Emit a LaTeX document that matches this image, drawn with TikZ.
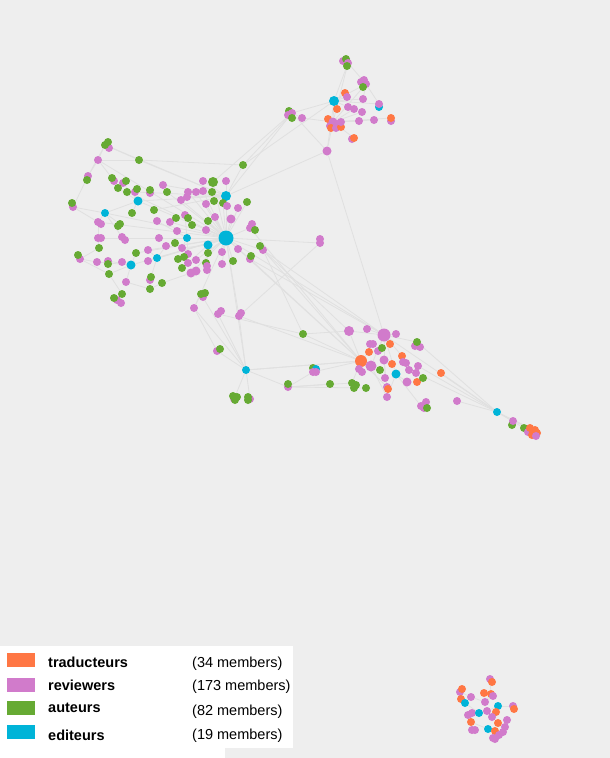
\documentclass[tikz,border=0pt]{standalone}
\usepackage{fontspec}
\setmainfont{Liberation Sans}
\usetikzlibrary{backgrounds}
\definecolor{tra}{HTML}{FF7744}
\definecolor{rev}{HTML}{D17BCB}
\definecolor{aut}{HTML}{66AA33}
\definecolor{edi}{HTML}{00B4D8}
\definecolor{bgc}{HTML}{EEEEEE}
\definecolor{edgec}{HTML}{E0E0E0}
\tikzset{
  dot/.style={circle, inner sep=0pt, minimum size=#1, draw=none},
  link/.style={draw=edgec, line width=0.8pt},
  legsq/.style={rectangle, inner sep=0pt, minimum width=28pt, minimum height=14pt, draw=none},
  legtxt/.style={anchor=base west, inner sep=0pt, font=\fontsize{14.5}{16}\selectfont\bfseries},
  memtxt/.style={anchor=base west, inner sep=0pt, font=\fontsize{14.5}{16}\selectfont},
}
\begin{document}
\begin{tikzpicture}[x=1pt,y=-1pt]
\useasboundingbox (0,0) rectangle (610,758);
% ---------------- dots ----------------
\foreach \n/\x/\y/\c/\s in {
 m2/109/148/rev/7, m1/105/145/aut/7, m1b/108/142/aut/7,
 m3/98/160/rev/7, m4/139/160/aut/7, m5/243/165/aut/7,
 m6/88/176/rev/7, m7/87/180/aut/7,
 m8b/114/181/rev/7, m8/112/178/aut/7,
 m9/123/183/rev/7, m10/126/181/aut/7, m11/118/188/aut/7, m12/127/192/aut/7,
 m13/135/192/rev/7, m14/137/189/aut/7, m15/150/193/rev/7, m16/150/190/aut/7,
 m17/167/192/aut/7, m18/163/185/rev/7, m19/188/192/rev/7, m20/196/192/rev/7,
 m21/203/191/rev/7, m22/203/181/rev/7, m23/213/182/aut/9, m24/226/181/rev/7,
 m25/212/192/aut/7, m26/226/196/edi/9, m27/187/197/rev/7, m28/181/200/rev/7,
 m29/138/201/edi/8, m30/73/207/rev/7, m31/72/203/aut/7, m32/105/213/edi/7,
 m33/132/213/aut/7, m34/154/210/aut/7, m35/206/204/rev/7, m36/214/201/aut/7,
 m37/223/203/aut/7, m38/227/206/rev/7, m39/238/208/rev/7, m40/247/202/aut/7,
 m41/98/222/rev/7, m41b/101/224/rev/7, m42/120/224/aut/7, m42b/118/226/aut/7,
 m43/157/221/rev/7, m44/170/222/rev/7, m45/176/218/aut/7, m46/185/215/rev/7,
 m47/188/218/aut/7, m48/208/221/aut/7, m49/215/217/rev/7, m50/231/219/rev/8,
 m51/252/224/rev/7, m53/250/228/rev/7, m52/255/230/aut/7, m54/192/225/aut/7,
 m55/177/231/rev/7, m56/206/230/rev/7, M/226/238/edi/14, m57/187/238/edi/7,
 m58/208/245/edi/8, m59/98/238/rev/7, m59b/101/238/rev/7, m60/122/237/rev/7,
 m61/125/240/rev/7, m62/159/238/rev/7, m63/175/243/aut/7, m64/166/246/rev/7,
 m65/182/248/rev/7, m66/238/249/rev/7, m67/263/250/rev/7, m68/260/246/aut/7,
 m69/99/248/aut/7, m70/148/250/rev/7, m71/136/253/aut/7, m72/188/254/rev/7,
 m73/184/257/aut/7, m74/208/253/aut/7, m75/222/252/rev/7, m76/80/259/rev/7,
 m77/78/255/aut/7, m78/97/262/rev/7, m79/108/261/rev/7, m80/108/264/aut/7,
 m81/122/262/rev/7, m82/131/265/edi/8, m83/148/261/rev/7, m84/157/258/edi/7,
 m85/178/259/aut/7, m86/196/260/rev/7, m87/188/263/rev/7, m89/206/263/aut/7,
 m88/207/266/rev/7, m90/222/264/rev/7, m91/233/261/aut/7, m92/250/259/rev/7,
 m93/251/256/aut/7, m94/109/274/aut/7, m95/126/282/rev/7, m96/150/280/rev/7,
 m97/151/277/aut/7, m98/162/283/aut/7, m99/182/268/aut/7, m100/191/273/rev/8,
 m100b/196/271/rev/8, m101/207/270/rev/7, m102/150/289/aut/7, m103/122/294/aut/7,
 m104/117/300/rev/7, m106/121/303/rev/7, m105/114/298/aut/7,
 m107b/203/297/rev/7, m107/201/294/aut/7, m108/205/293/aut/7,
 m109/194/308/rev/7, m110/218/314/rev/7, m110b/221/311/rev/7,
 m111/239/316/rev/7, m111b/241/313/rev/7,
 m112/217/351/rev/7, m113/220/349/aut/7, m114/246/370/edi/7,
 m115/234/399/rev/7, m115b/233/396/aut/7, m115c/237/397/aut/7, m115d/235/400/aut/7,
 m116/250/399/rev/7, m116b/248/397/aut/7, m116c/248/400/aut/7,
 m117/288/387/rev/7, m117b/288/384/aut/7, m118/320/243/rev/7, m118b/320/239/rev/7,
 t1a/343/61/rev/7, t1b/346/59/aut/7, t1/348/63/rev/7, t1c/347/66/aut/7,
 t2a/361/82/rev/7, t2b/364/80/rev/7, t2/366/84/rev/7, t2c/363/87/aut/7,
 t3/345/93/tra/7, t4/347/97/rev/7, t5/334/101/edi/9, t6/363/99/rev/7,
 t7b/379/107/edi/7, t7/379/104/rev/7, t8/337/109/tra/7, t9/348/107/rev/7,
 t10/354/109/rev/7, t11/362/112/rev/7,
 t12a/289/111/aut/7, t12/292/113/rev/7, t12b/288/115/rev/7, t12c/292/118/aut/7,
 t13/302/118/rev/7,
 t14a/328/119/tra/7, t14/333/122/rev/8, t14b/330/126/rev/7, t14c/338/124/rev/7,
 t14d/331/128/tra/7, t14e/336/128/rev/7, t14f/341/127/tra/7, t14g/341/122/rev/7,
 t15/359/121/rev/7, t16/374/120/rev/7, t17b/391/121/rev/7, t17/391/118/tra/7,
 t18b/352/139/rev/7, t18/354/138/tra/7, t19/327/151/rev/8,
 r1/303/334/aut/7, r2/349/331/rev/9, r3/367/329/rev/7, r4/384/335/rev/12,
 r5/396/334/rev/7, r6/390/344/tra/7, r7b/415/346/rev/7, r7c/420/347/rev/7, r7/417/342/aut/7,
 r8/370/344/rev/7, r8b/373/344/rev/7, r9/369/352/tra/7, r10/378/351/rev/7,
 r11/382/348/aut/7, r12/402/356/tra/7, r13/403/362/rev/7, r14/384/360/rev/8,
 r15/392/364/tra/7, r16/361/361/tra/11, r17/371/366/rev/10, r18/359/369/rev/7,
 r18b/362/372/rev/7, r19/380/370/aut/7, r20/406/363/rev/7, r21/418/366/rev/7,
 r22/409/370/rev/7, r23/441/373/tra/7, r24/396/374/edi/8, r25/416/373/rev/7,
 r26b/313/368/aut/7, r26c/316/369/edi/7, r26/313/372/rev/7, r26d/316/372/rev/7,
 r27/330/384/aut/7, r28/352/383/aut/7, r28b/356/385/aut/7, r28c/354/388/aut/7,
 r29/366/388/aut/7, r30/385/378/rev/7, r31/387/387/rev/7, r31b/388/389/tra/7,
 r32/407/382/rev/8, r33/417/382/tra/7, r34/423/378/aut/7, r35/387/397/rev/7,
 r36/421/406/rev/7, r36b/426/402/rev/7, r36c/424/408/rev/7, r36d/427/408/aut/7,
 r37/457/401/rev/7, r39/497/412/edi/7, r40b/512/425/aut/7, r40/513/421/rev/7,
 r41/524/428/aut/7,
 r42a/528/432/rev/7, r42/530/428/tra/7, r42b/535/430/tra/7, r42c/532/435/tra/7,
 r42d/537/433/tra/7, r42e/536/436/rev/7,
 b1/490/679/rev/7, b2/492/682/tra/7, b3/460/692/rev/7, b4/462/689/tra/7,
 b5/471/697/rev/7, b6/484/693/tra/7, b7/491/694/tra/7, b8/493/696/rev/7,
 b9/461/699/tra/7, b10/465/703/edi/7, b11/485/702/rev/7, b12/498/706/edi/7,
 b13/513/706/rev/7, b14/514/709/tra/7, b15/468/715/rev/7, b16/472/713/rev/7,
 b17/479/713/edi/7, b18/487/711/rev/7, b19/496/712/tra/7, b20/492/717/rev/7,
 b21/471/722/tra/7, b22/498/723/tra/7, b23/507/720/rev/7, b24/505/727/rev/7,
 b25/503/732/rev/7, b26/475/730/rev/7, b26b/472/730/rev/7, b27/488/729/edi/7,
 b28/495/731/tra/7, b29/499/735/rev/7, b30/495/739/rev/7, b31/493/738/rev/7}
 \node[dot={\s pt+1pt}, fill=\c] (\n) at (\x,\y) {};
\begin{scope}[on background layer]
\fill[bgc] (0,0) rectangle (610,758);
\fill[white] (0,646) rectangle (293,748);
\fill[white] (0,748) rectangle (225,758);
\foreach \a/\b in {
 M/m26, M/m23, M/m24, M/m35, M/m37, M/m50, M/m53, M/m56, M/m57, M/m58,
 M/m66, M/m75, M/m90, M/m91, M/m62, M/m44, M/m28, M/m39, M/m40, M/m21,
 M/m20, M/m48, M/m49, M/m74, M/m86, M/m92, M/m67, M/m118, M/m29, M/m32,
 M/m41, M/m59, M/m12, M/m17, M/m19, M/m71, M/m83, M/m100, M/m109, M/m111,
 M/r4, M/r16, M/m114, M/m82, M/m84, M/m70, M/m3,
 m26/m5, m26/t19, m26/t12, m26/m1, m26/m4, m26/m13, m26/m29, m26/m22,
 m3/m4, m4/m5, m1/m3, m1/m6, m3/m6, m6/m30, m30/m32, m32/m29, m29/m13,
 m32/m41, m41/m59, m59/m69, m69/m76, m76/m78, m78/m82, m82/m94, m94/m103,
 m103/m104, m82/m95, m95/m102, m102/m98, m98/m100, m84/m70, m84/m96,
 m57/m46, m57/m65, m57/m72, m58/m74, m58/m88, m58/m101, m26/m36,
 m29/m9, m29/m33, m29/m11, m32/m42, m32/m60, m82/m81, m82/m79, m82/m71,
 m57/m43, m57/m55, m57/m62, m84/m64, m84/m83, m58/m65, m58/m87, m26/m27,
 m26/m19, m26/m18, m26/m34, m30/m41, m76/m94, m3/m8, m1/m4,
 m5/t5, m5/t12, t5/t19, t5/t1, t5/t2, t5/t14, t5/t12, t5/t7, t5/t4, t5/t3,
 t5/t9, t5/t6, t19/t14, t19/r4, t19/t12, t12/m23, t12/t13, t13/t14,
 t14/t15, t14/t16, t14/t17, t14/t18, t14/t2, t14/t11, t14/t1, t14/t10,
 t1/t2, t2/t6, t7/t2,
 r4/m67, r4/m92, r4/r39, r4/r2, r4/r3, r4/r5, r4/r6, r4/r7, r4/r14,
 r4/r17, r4/r24, r4/r12, r4/r10, r4/r30, r16/m67, r16/m111, r16/r1,
 r16/r26, r16/m114, r16/r17, r16/r28, r16/r31, r16/r2, r16/r9,
 m67/r1, m67/r2, m53/r16, m92/r16, r1/r2, r1/m110,
 m114/m115, m114/m116, m114/m112, m114/m117, m114/m110, m114/m109,
 m114/m107, m114/m111, m114/r16, m107/m109, m109/m112, m111/m118,
 m117/r27, m117/r28, m117/r26, m117/r29,
 r39/r40, r39/r41, r39/r42, r39/r23, r39/r37, r39/r25, r39/r7, r39/r21,
 r40/r42, r41/r42, r24/r32, r24/r35, r24/r36, r17/r35, r14/r31,
 b3/b5, b5/b11, b11/b7, b7/b1, b10/b17, b17/b18, b18/b12, b12/b13,
 b16/b21, b21/b27, b27/b28, b28/b29, b8/b11, b22/b24}
 \draw[link] (\a) -- (\b);
\end{scope}
\node[legsq, fill=tra] (k1) at (21,660) {};
\node[legsq, fill=rev] (k2) at (21,684.5) {};
\node[legsq, fill=aut] (k3) at (21,708) {};
\node[legsq, fill=edi] (k4) at (21,732) {};
\node[legtxt] (l1) at (48,667) {traducteurs};
\node[legtxt] (l2) at (48,690) {reviewers};
\node[legtxt] (l3) at (48,712) {auteurs};
\node[legtxt] (l4) at (48,740) {editeurs};
\node[memtxt] (n1) at (192,667) {(34 members)};
\node[memtxt] (n2) at (192,690.5) {(173 members)};
\node[memtxt] (n3) at (192,715) {(82 members)};
\node[memtxt] (n4) at (192,739) {(19 members)};
\end{tikzpicture}
\end{document}
